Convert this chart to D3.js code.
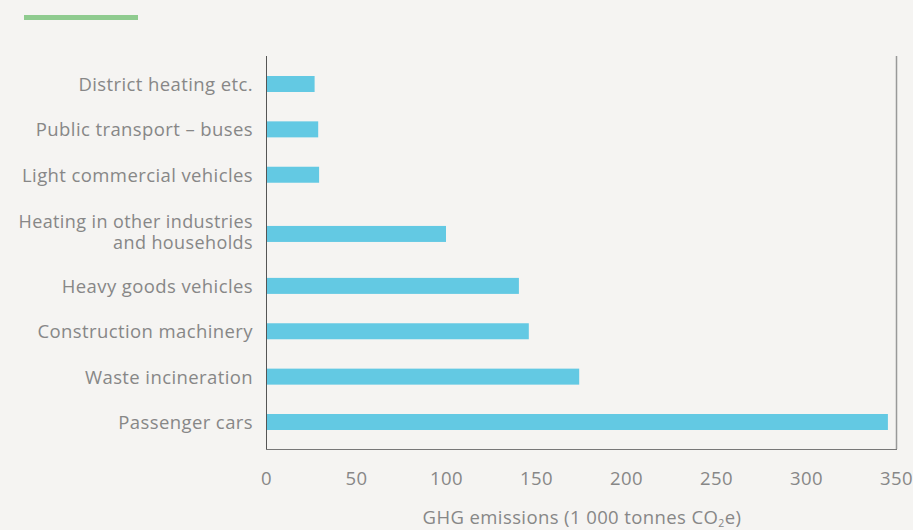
<!DOCTYPE html>
<html><head><meta charset="utf-8">
<script src="https://cdn.jsdelivr.net/npm/d3@7"></script>
<style>
html,body{margin:0;padding:0;background:#f5f4f2;}
text{font-family:"Open Sans",sans-serif;fill:#878787;letter-spacing:0.4px;}
</style></head>
<body>
<svg id="c" width="913" height="530"></svg>
<script>
const categories = [
  "District heating etc.",
  "Public transport – buses",
  "Light commercial vehicles",
  "Heating in other industries\nand households",
  "Heavy goods vehicles",
  "Construction machinery",
  "Waste incineration",
  "Passenger cars"
];
const values = [27, 29, 29.5, 100, 140.5, 146, 174, 345.5];
const xTicks = [0, 50, 100, 150, 200, 250, 300, 350];
const xTitle = "GHG emissions (1 000 tonnes CO";

const svg = d3.select("#c");
const m = {left: 266, right: 896, top: 56, bottom: 449};
const FS = 18.5;

const x = d3.scaleLinear().domain([0, 350]).range([m.left, m.right]);

// vertical slots: two-line labels take a bit more room
const nLines = categories.map(c => c.split("\n").length);
const units = nLines.map(n => 1 + 0.45 * (n - 1));
const centers = [];
let acc = 0;
units.forEach((u, i) => { centers.push(acc + u / 2 + (nLines[i] > 1 ? 0.08 : 0)); acc += u; });
const yc = d3.scaleLinear().domain([centers[0], centers[centers.length - 1]]).range([84, 422]);
const barH = 16;

// green accent line
svg.append("rect").attr("x", 24).attr("y", 15).attr("width", 114).attr("height", 5).attr("fill", "#8fcb8f");

// bars
svg.append("g").selectAll("rect").data(categories).join("rect")
  .attr("x", x(0))
  .attr("y", (d, i) => yc(centers[i]) - barH / 2)
  .attr("height", barH)
  .attr("width", (d, i) => x(values[i]) - x(0))
  .attr("fill", "#63c9e3");

// frame lines
svg.append("line").attr("x1", m.left + 0.5).attr("x2", m.left + 0.5).attr("y1", m.top).attr("y2", m.bottom)
  .attr("stroke", "#555").attr("stroke-width", 1);
svg.append("line").attr("x1", m.left).attr("x2", m.right + 1).attr("y1", m.bottom + 0.5).attr("y2", m.bottom + 0.5)
  .attr("stroke", "#777").attr("stroke-width", 1);
svg.append("line").attr("x1", m.right + 0.5).attr("x2", m.right + 0.5).attr("y1", m.top).attr("y2", m.bottom)
  .attr("stroke", "#999").attr("stroke-width", 1.5);

// category labels (one text element per line)
const labG = svg.append("g");
categories.forEach((c, i) => {
  const lines = c.split("\n");
  const cy = yc(centers[i]);
  lines.forEach((l, j) => {
    const base = lines.length === 1 ? cy + 7 : cy - 6 + j * 21;
    labG.append("text")
      .attr("x", m.left - 13)
      .attr("y", base)
      .attr("text-anchor", "end")
      .attr("font-size", lines.length === 1 ? FS : 18)
      .text(l);
  });
});

// x axis ticks
const xAxis = d3.axisBottom(x).tickValues(xTicks).tickSize(0).tickPadding(0);
const gx = svg.append("g").attr("transform", `translate(0,${m.bottom})`).call(xAxis);
gx.select(".domain").remove();
gx.selectAll("text").attr("y", 36).attr("dy", "0").attr("font-size", FS)
  .style("font-family", "'Open Sans',sans-serif").style("fill", "#878787");

// axis title
const tt = svg.append("text").attr("x", 582).attr("y", 524)
  .attr("text-anchor", "middle").attr("font-size", FS);
tt.append("tspan").text(xTitle);
tt.append("tspan").attr("font-size", 10.5).attr("dy", 3).text("2");
tt.append("tspan").attr("dy", -3).text("e)");
</script>
</body></html>
